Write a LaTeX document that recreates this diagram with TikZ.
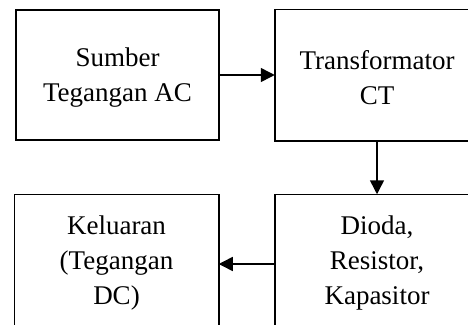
\documentclass[tikz,border=0pt]{standalone}
\usepackage{fontspec}
\setmainfont{Liberation Serif}
\usetikzlibrary{arrows.meta}
\begin{document}
\begin{tikzpicture}[x=1pt,y=-1pt,
  blockbox/.style={line width=1.5pt, minimum width=203pt, minimum height=130pt,
    align=center, inner sep=0pt, font=\fontsize{27}{35}\selectfont},
  edge/.style={draw, line width=1.5pt},
  conn/.style={line width=1.5pt, -{Triangle[length=14pt,width=14pt]}}]
\useasboundingbox (0,0) rectangle (468,324);
\clip (0,0) rectangle (468,324);
\node[blockbox, draw] (src) at (117.5,75) {};
\node[blockbox] (srct) at (117.5,78) {Sumber\\Tegangan AC};
\node[blockbox] (tr) at (377,75) {};
\node[blockbox] (trt) at (377,78) {Transformator\\CT};
\node[blockbox] (drk) at (377,260) {};
\node[blockbox] (drkt) at (377,263) {Dioda,\\Resistor,\\Kapasitor};
\node[blockbox] (out) at (116.5,260) {};
\node[blockbox] (outt) at (116.5,263) {Keluaran\\(Tegangan\\DC)};
\draw[edge] (tr.north west) rectangle ([xshift=40pt]tr.south east);
\draw[edge] ([yshift=-20pt]drk.south west) -- (drk.north west) -- ([xshift=40pt]drk.north east);
\draw[edge] ([yshift=-20pt]out.south west) -- (out.north west) -- (out.north east) -- ([yshift=-20pt]out.south east);
\draw[conn] (src.east) -- (tr.west);
\draw[conn] (tr.south) -- (drk.north);
\draw[conn] ([yshift=-4pt]drk.west) -- ([yshift=-4pt]out.east);
\end{tikzpicture}
\end{document}
